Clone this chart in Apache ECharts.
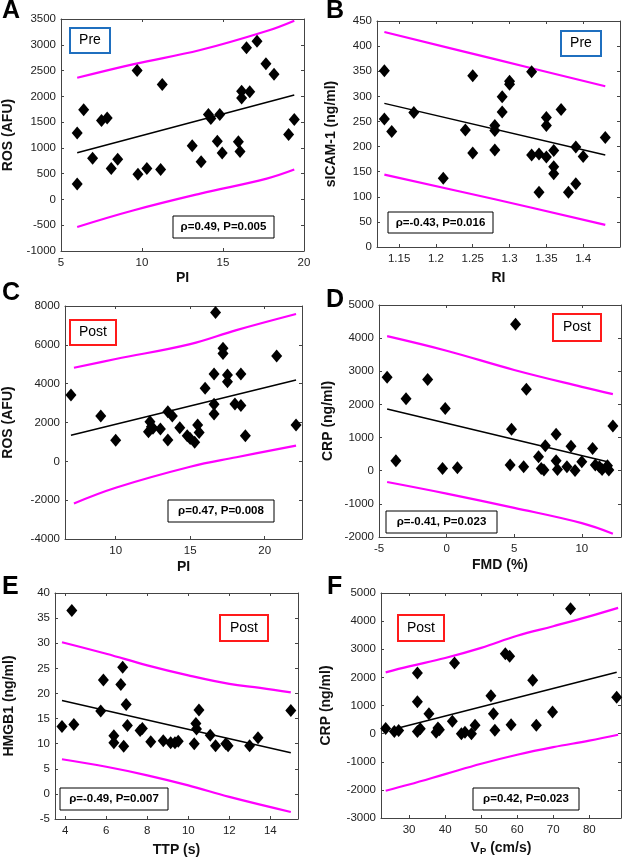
<!DOCTYPE html>
<html>
<head>
<meta charset="utf-8">
<script src="https://cdn.jsdelivr.net/npm/echarts@6/dist/echarts.min.js"></script>
<style>
  html, body { margin: 0; padding: 0; background: #fff; }
  #chart { width: 625px; height: 859px; }
</style>
</head>
<body>
<div id="chart"></div>
<script>
// A: ROS vs PI (Pre)
const aPI = [6.0, 6.0, 6.4, 6.95, 7.5, 7.85, 8.1, 8.5, 9.7, 9.75, 10.3, 11.15, 11.25, 13.1, 13.65, 14.1, 14.25, 14.65, 14.8, 14.95, 15.95, 16.05, 16.15, 16.15, 16.65, 16.45, 17.1, 17.65, 18.15, 19.05, 19.4];
const aROS = [300, 1290, 1740, 800, 1530, 1580, 600, 780, 2500, 490, 600, 580, 2230, 1040, 730, 1650, 1570, 1130, 1650, 900, 1120, 930, 2100, 1970, 2090, 2940, 3070, 2630, 2430, 1260, 1550];
const aFit = [[6.0, 904], [19.4, 2024]];
const aUpper = [[6.0, 2360], [9.5, 2626], [13.6, 2898], [17.7, 3267], [19.4, 3468]];
const aLower = [[6.0, -534], [9.5, -210], [13.6, 113], [17.7, 405], [19.4, 580]];

// B: sICAM-1 vs RI (Pre)
const bRI = [1.13, 1.13, 1.14, 1.17, 1.21, 1.24, 1.25, 1.25, 1.28, 1.28, 1.28, 1.29, 1.29, 1.30, 1.30, 1.33, 1.33, 1.34, 1.34, 1.35, 1.35, 1.35, 1.36, 1.36, 1.36, 1.37, 1.38, 1.39, 1.39, 1.40, 1.43];
const bICAM = [351, 255, 230, 268, 137, 233, 341, 187, 242, 232, 193, 299, 269, 330, 324, 349, 183, 185, 109, 179, 258, 242, 192, 160, 146, 274, 109, 199, 126, 180, 218];
const bFit = [[1.13, 286], [1.43, 183]];
const bUpper = [[1.13, 428], [1.28, 374], [1.43, 320]];
const bLower = [[1.13, 144], [1.28, 95], [1.43, 44]];

// C: ROS vs PI (Post)
const cPI = [7.0, 9.0, 10.0, 12.2, 12.3, 12.4, 12.5, 13.0, 13.5, 13.5, 13.8, 14.3, 14.8, 15.0, 15.3, 15.5, 15.6, 16.0, 16.6, 16.6, 16.6, 16.7, 17.2, 17.2, 17.5, 17.5, 18.0, 18.4, 18.4, 18.7, 20.8, 22.1];
const cROS = [3420, 2330, 1080, 1530, 2040, 1780, 1700, 1660, 1100, 2560, 2330, 1730, 1320, 1180, 980, 1870, 1480, 3760, 4500, 2940, 2440, 7670, 5820, 5560, 4450, 4100, 2950, 2870, 4500, 1320, 5430, 1870];
const cFit = [[7.0, 1340], [22.1, 4190]];
const cUpper = [[7.2, 4820], [10, 5270], [15, 6040], [18.1, 6760], [22.1, 7590]];
const cLower = [[7.2, -2170], [10, -1360], [15, -280], [18.1, 210], [22.1, 810]];

// D: CRP vs FMD (Post)
const dFMD = [-4.4, -3.75, -3.0, -1.4, -0.3, -0.1, 0.8, 4.7, 4.8, 5.1, 5.7, 5.9, 6.8, 7.0, 7.2, 7.3, 8.1, 8.1, 8.2, 8.9, 9.2, 9.5, 10.0, 10.8, 11.0, 11.3, 11.5, 11.9, 12.0, 12.3];
const dCRP = [2820, 300, 2170, 2750, 70, 1880, 90, 170, 1250, 4420, 120, 2460, 420, 70, 20, 750, 1100, 300, 40, 120, 740, 10, 270, 670, 170, 120, 40, 150, 20, 1350];
const dFit = [[-4.4, 1860], [11.9, 270]];
const dUpper = [[-4.4, 4060], [0, 3620], [5, 3040], [10, 2530], [12.3, 2310]];
const dLower = [[-4.4, -340], [0, -690], [5, -1120], [10, -1580], [12.3, -1900]];

// E: HMGB1 vs TTP (Post)
const eTTP = [3.84, 4.32, 4.42, 5.73, 5.86, 6.37, 6.37, 6.71, 6.8, 6.85, 6.97, 7.03, 7.65, 7.76, 8.17, 8.78, 9.14, 9.35, 9.51, 10.29, 10.37, 10.4, 10.52, 11.07, 11.33, 11.83, 11.94, 12.99, 13.4, 15.0];
const eHMGB = [13.4, 36.5, 13.8, 16.5, 22.7, 11.6, 10.2, 21.8, 25.2, 9.5, 17.8, 13.6, 12.6, 13.0, 10.4, 10.6, 10.2, 10.2, 10.5, 10.0, 14.0, 12.9, 16.7, 11.7, 9.6, 10.0, 9.6, 9.6, 11.2, 16.6];
const eFit = [[3.84, 18.6], [15.0, 8.2]];
const eUpper = [[3.84, 30.2], [6, 27.9], [8, 25.6], [10, 23.6], [12, 21.9], [13.5, 21.1], [15.0, 20.2]];
const eLower = [[3.84, 6.9], [6, 5.4], [8, 3.7], [10, 1.7], [12, -0.6], [15.0, -3.6]];

// F: CRP vs Vp (Post)
const fVP = [23.5, 25.9, 27.1, 32.3, 32.3, 32.3, 33.1, 35.5, 37.5, 38.0, 38.4, 42.0, 42.6, 44.5, 45.5, 47.3, 48.3, 52.7, 53.4, 53.8, 56.7, 57.9, 58.3, 64.3, 65.3, 69.8, 74.8, 87.6];
const fCRP = [180, 80, 110, 2160, 1130, 80, 170, 710, 50, 200, 140, 440, 2510, 0, 50, 0, 300, 1350, 710, 120, 2840, 2750, 320, 1900, 300, 770, 4440, 1290];
const fFit = [[27.0, 200], [87.6, 2180]];
const fUpper = [[23.5, 2180], [30, 2390], [40, 2690], [50, 3050], [60, 3480], [70, 3820], [80, 4170], [88, 4470]];
const fLower = [[23.5, -2030], [30, -1810], [40, -1440], [50, -1070], [60, -750], [70, -480], [80, -250], [88, -40]];

const FONT = 'Arial, "Liberation Sans", sans-serif';
const AXIS_COLOR = '#444';
const grids = [];
const xAxes = [];
const yAxes = [];
const series = [];
const plain = (v) => String(v);

function addPanel(rect, xa, ya, xs, ys, fit, upper, lower) {
  const g = grids.length;
  grids.push({ left: rect[0], top: rect[1], width: rect[2], height: rect[3] });
  const axisLine = { onZero: false, lineStyle: { color: AXIS_COLOR, width: 1 } };
  const nameStyle = { fontFamily: FONT, fontSize: 14, fontWeight: 'bold', color: '#111', rich: xa.rich };
  const labelStyle = { fontFamily: FONT, fontSize: 11.5, color: '#222', formatter: plain };

  xAxes.push({
    type: 'value', gridIndex: g, position: 'bottom', min: xa.min, max: xa.max,
    name: xa.name, nameLocation: 'middle', nameGap: xa.gap, nameTextStyle: nameStyle,
    axisLine: axisLine,
    axisTick: { inside: true, length: 3, customValues: xa.ticks, lineStyle: { color: AXIS_COLOR } },
    axisLabel: Object.assign({ customValues: xa.ticks, margin: 6 }, labelStyle),
    splitLine: { show: false }
  });
  xAxes.push({
    type: 'value', gridIndex: g, position: 'top', min: xa.min, max: xa.max,
    axisLine: axisLine,
    axisTick: { inside: true, length: 3, customValues: xa.ticks, lineStyle: { color: AXIS_COLOR } },
    axisLabel: { show: false },
    splitLine: { show: false }
  });
  yAxes.push({
    type: 'value', gridIndex: g, position: 'left', min: ya.min, max: ya.max, interval: ya.interval,
    name: ya.name, nameLocation: 'middle', nameGap: ya.gap,
    nameTextStyle: { fontFamily: FONT, fontSize: 14, fontWeight: 'bold', color: '#111' },
    axisLine: axisLine,
    axisTick: { inside: true, length: 3, lineStyle: { color: AXIS_COLOR } },
    axisLabel: Object.assign({ margin: 5 }, labelStyle),
    splitLine: { show: false }
  });
  yAxes.push({
    type: 'value', gridIndex: g, position: 'right', min: ya.min, max: ya.max, interval: ya.interval,
    axisLine: axisLine,
    axisTick: { inside: true, length: 3, lineStyle: { color: AXIS_COLOR } },
    axisLabel: { show: false },
    splitLine: { show: false }
  });

  const xi = 2 * g;
  const band = { color: '#ff00ff', width: 2.2 };
  series.push({
    type: 'line', xAxisIndex: xi, yAxisIndex: xi, data: upper, smooth: 0.4,
    symbol: 'none', lineStyle: band, itemStyle: { color: '#ff00ff' }, z: 2
  });
  series.push({
    type: 'line', xAxisIndex: xi, yAxisIndex: xi, data: lower, smooth: 0.4,
    symbol: 'none', lineStyle: band, itemStyle: { color: '#ff00ff' }, z: 2
  });
  series.push({
    type: 'scatter', xAxisIndex: xi, yAxisIndex: xi,
    data: xs.map((v, i) => [v, ys[i]]),
    symbol: 'diamond', symbolSize: [11, 13], itemStyle: { color: '#000', opacity: 1 }, z: 3
  });
  series.push({
    type: 'line', xAxisIndex: xi, yAxisIndex: xi, data: fit,
    symbol: 'none', lineStyle: { color: '#000', width: 1.5 }, z: 4
  });
}

addPanel([58, 19, 246, 232],
  { min: 5, max: 20, ticks: [5, 10, 15, 20], name: 'PI', gap: 20 },
  { min: -1000, max: 3500, interval: 500, name: 'ROS (AFU)', gap: 46 },
  aPI, aROS, aFit, aUpper, aLower);
addPanel([377, 21, 243, 226],
  { min: 1.12, max: 1.45, ticks: [1.15, 1.2, 1.25, 1.3, 1.35, 1.4], name: 'RI', gap: 24 },
  { min: 0, max: 450, interval: 50, name: 'sICAM-1 (ng/ml)', gap: 39 },
  bRI, bICAM, bFit, bUpper, bLower);
addPanel([57, 306, 245, 233],
  { min: 6.6, max: 22.5, ticks: [10, 15, 20], name: 'PI', gap: 21 },
  { min: -4000, max: 8000, interval: 2000, name: 'ROS (AFU)', gap: 50 },
  cPI, cROS, cFit, cUpper, cLower);
addPanel([379, 305, 242, 232],
  { min: -5, max: 12.9, ticks: [-5, 0, 5, 10], name: 'FMD (%)', gap: 21 },
  { min: -2000, max: 5000, interval: 1000, name: 'CRP (ng/ml)', gap: 44 },
  dFMD, dCRP, dFit, dUpper, dLower);
addPanel([55, 593, 243, 226],
  { min: 3.5, max: 15.35, ticks: [4, 6, 8, 10, 12, 14], name: 'TTP (s)', gap: 24 },
  { min: -5, max: 40, interval: 5, name: 'HMGB1 (ng/ml)', gap: 39 },
  eTTP, eHMGB, eFit, eUpper, eLower);
addPanel([381, 593, 240, 225],
  {
    min: 22.2, max: 88.8, ticks: [30, 40, 50, 60, 70, 80], name: 'V{s|P} (cm/s)', gap: 22,
    rich: { s: { fontFamily: FONT, fontSize: 9.5, fontWeight: 'bold', color: '#111', verticalAlign: 'bottom', padding: [6, 0, 0, 0] } }
  },
  { min: -3000, max: 5000, interval: 1000, name: 'CRP (ng/ml)', gap: 48 },
  fVP, fCRP, fFit, fUpper, fLower);

const graphics = [];

// framed labels: rect plus centred text
function labelBox(x, y, w, h, text, stroke, lw, font) {
  graphics.push({
    type: 'rect', z: 100,
    shape: { x: x, y: y, width: w, height: h },
    style: { fill: '#fff', stroke: stroke, lineWidth: lw }
  });
  graphics.push({
    type: 'text', z: 101,
    style: {
      text: text, x: x + w / 2, y: y + h / 2, fill: '#000', font: font,
      textAlign: 'center', textVerticalAlign: 'middle', align: 'center', verticalAlign: 'middle'
    }
  });
}

const PRE = '#1f6fbf';
const POST = '#ff1a1a';
const TAG = 'normal 14px ' + FONT;
const STAT = 'bold 11.5px ' + FONT;

labelBox(70, 28, 40, 25, 'Pre', PRE, 2, TAG);
labelBox(173, 216, 101, 22, 'ρ=0.49, P=0.005', '#000', 1, STAT);
labelBox(561, 31, 40, 25, 'Pre', PRE, 2, TAG);
labelBox(388, 212, 105, 21, 'ρ=-0.43, P=0.016', '#000', 1, STAT);
labelBox(70, 320, 46, 25, 'Post', POST, 2, TAG);
labelBox(168, 500, 106, 22, 'ρ=0.47, P=0.008', '#000', 1, STAT);
labelBox(553, 314, 48, 27, 'Post', POST, 2, TAG);
labelBox(386, 511, 111, 22, 'ρ=-0.41, P=0.023', '#000', 1, STAT);
labelBox(220, 615, 48, 26, 'Post', POST, 2, TAG);
labelBox(60, 788, 108, 22, 'ρ=-0.49, P=0.007', '#000', 1, STAT);
labelBox(398, 615, 46, 26, 'Post', POST, 2, TAG);
labelBox(473, 788, 106, 22, 'ρ=0.42, P=0.023', '#000', 1, STAT);

const letters = [['A', 2, -1], ['B', 326, -1], ['C', 2, 281], ['D', 326, 288], ['E', 2, 575], ['F', 327, 575]];
letters.forEach(function (l) {
  graphics.push({
    type: 'text', left: l[1], top: l[2], z: 100,
    style: { text: l[0], fill: '#000', font: 'bold 25px ' + FONT }
  });
});

const chart = echarts.init(document.getElementById('chart'), null, { renderer: 'canvas' });
chart.setOption({
  animation: false,
  backgroundColor: '#fff',
  textStyle: { fontFamily: FONT },
  grid: grids,
  xAxis: xAxes,
  yAxis: yAxes,
  series: series,
  graphic: graphics
});
</script>
</body>
</html>
